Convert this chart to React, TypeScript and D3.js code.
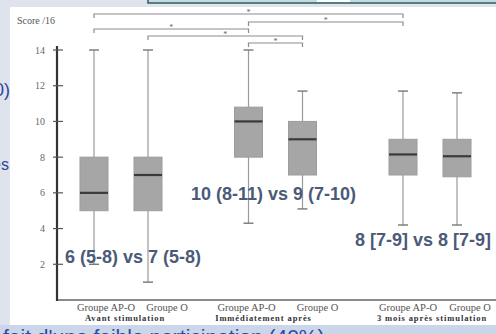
import React from "react";
import * as d3 from "d3";

// periods and groups on the x axis
const periods = ["Avant stimulation", "Immédiatement après", "3 mois après stimulation"];
const groups = ["Groupe AP-O", "Groupe O"];

// box stats, in order: period 1 AP-O, period 1 O, period 2 AP-O, ...
const whiskerLow = [2, 1, 4.3, 5.1, 4.2, 4.2];
const q1 = [5, 5, 8, 7, 7, 6.9];
const medians = [6, 7, 10, 9, 8.15, 8.05];
const q3 = [8, 8, 10.8, 10, 9, 9];
const whiskerHigh = [14, 14, 14, 11.7, 11.7, 11.6];

const yTicks = [2, 4, 6, 8, 10, 12, 14];

// significance brackets: [from box, to box]
const brackets = [
  [0, 4],
  [2, 4],
  [0, 2],
  [1, 3],
  [2, 3],
];

const summaryTexts = ["6 (5-8) vs 7 (5-8)", "10 (8-11) vs 9 (7-10)", "8 [7-9] vs 8 [7-9]"];
const summaryValues = [2.1, 5.6, 3.0];

const W = 496;
const H = 334;

export default function App() {
  const y = d3.scaleLinear().domain([0, 14]).range([300, 50]);
  const xPeriod = d3.scalePoint().domain(periods).range([121, 430]);
  const xGroup = d3.scalePoint().domain(groups).range([-27, 27]);

  const boxes = periods.flatMap((p, pi) =>
    groups.map((g, gi) => {
      const i = pi * 2 + gi;
      return {
        period: p,
        group: g,
        cx: (xPeriod(p) as number) + (xGroup(g) as number),
        lo: whiskerLow[i],
        q1: q1[i],
        med: medians[i],
        q3: q3[i],
        hi: whiskerHigh[i],
      };
    })
  );

  const boxW = 28;
  const capW = 10;
  const bracketY = [14, 22, 29, 36, 43];
  // small layout nudges so the labels sit where the original figure put them
  const groupLabelDx = [12, 19, -2, 15, 5, 13];
  const periodLabelDx = [4, -12, 2];
  const summaryDx = [12, -2, -7];
  const textColor = "#4b5a78";
  const serif = "Liberation Serif, 'DejaVu Serif', serif";
  const sans = "Liberation Sans, Arial, sans-serif";

  return (
    <svg width={W} height={H} style={{ position: "absolute", left: 0, top: 0 }}>
      {/* slide background */}
      <rect x={0} y={0} width={W} height={H} fill="#dfe3eb" />
      <rect x={10} y={7} width={W - 10} height={318} fill="#ffffff" />
      <rect x={148} y={-4} width={360} height={7} fill="#c6dadd" stroke="#2e5b66" strokeWidth={1.5} />
      <rect x={317} y={0} width={33} height={2} fill="#ffffff" />
      <rect x={0} y={325} width={W} height={9} fill="#ccd6ea" />
      <text x={3} y={344} fontFamily={sans} fontSize={21} fill="#2b49a6">
        fait d'une faible participation (40%)
      </text>
      <text x={10} y={96} textAnchor="end" fontFamily={sans} fontSize={18} fill="#2d44a0">
        0)
      </text>
      <text x={9} y={170} textAnchor="end" fontFamily={sans} fontSize={16} fill="#2d44a0">
        es
      </text>

      {/* axes */}
      <line x1={57} x2={W} y1={y(0)} y2={y(0)} stroke="#8a8a8a" strokeWidth={2} />
      <line x1={57} x2={57} y1={46} y2={y(0) + 1} stroke="#333" strokeWidth={2.2} />
      {yTicks.map((t) => (
        <g key={t}>
          <line x1={53} x2={63} y1={y(t)} y2={y(t)} stroke="#555" strokeWidth={1.2} />
          <text x={45} y={y(t) + 3.5} textAnchor="end" fontFamily={serif} fontSize={10} fill="#666">
            {t}
          </text>
        </g>
      ))}
      <text x={17} y={24} fontFamily={serif} fontSize={10} fill="#555">
        Score /16
      </text>

      {/* boxes */}
      {boxes.map((b, i) => (
        <g key={i}>
          <line x1={b.cx} x2={b.cx} y1={y(b.hi)} y2={y(b.q3)} stroke="#9a9a9a" strokeWidth={1.2} />
          <line x1={b.cx} x2={b.cx} y1={y(b.q1)} y2={y(b.lo)} stroke="#9a9a9a" strokeWidth={1.2} />
          <line x1={b.cx - capW / 2} x2={b.cx + capW / 2} y1={y(b.hi)} y2={y(b.hi)} stroke="#777" strokeWidth={1.4} />
          <line x1={b.cx - capW / 2} x2={b.cx + capW / 2} y1={y(b.lo)} y2={y(b.lo)} stroke="#777" strokeWidth={1.4} />
          <rect
            x={b.cx - boxW / 2}
            y={y(b.q3)}
            width={boxW}
            height={y(b.q1) - y(b.q3)}
            fill="#a6a6a6"
            stroke="#9c9c9c"
          />
          <line
            x1={b.cx - boxW / 2}
            x2={b.cx + boxW / 2}
            y1={y(b.med)}
            y2={y(b.med)}
            stroke="#3a3a3a"
            strokeWidth={2.2}
          />
          <text
            x={b.cx + groupLabelDx[i]}
            y={311}
            textAnchor="middle"
            fontFamily={serif}
            fontSize={10.5}
            fill="#555"
          >
            {b.group}
          </text>
        </g>
      ))}
      {periods.map((p, i) => (
        <text
          key={p}
          x={(xPeriod(p) as number) + periodLabelDx[i]}
          y={321}
          textAnchor="middle"
          fontFamily={serif}
          fontSize={8.5}
          fontWeight="bold"
          letterSpacing={0.9}
          fill="#333"
        >
          {p}
        </text>
      ))}

      {/* brackets */}
      {brackets.map(([a, b], i) => {
        const x1 = boxes[a].cx;
        const x2 = boxes[b].cx;
        const by = bracketY[i];
        return (
          <g key={i}>
            <path
              d={`M${x1},${by + 4}V${by}H${x2}V${by + 4}`}
              fill="none"
              stroke="#8c8c8c"
              strokeWidth={1.2}
            />
            <text x={(x1 + x2) / 2} y={by + 1} textAnchor="middle" fontFamily={serif} fontSize={8} fill="#666">
              *
            </text>
          </g>
        );
      })}

      {/* summary annotations */}
      {summaryTexts.map((s, i) => (
        <text
          key={s}
          x={(xPeriod(periods[i]) as number) + summaryDx[i]}
          y={y(summaryValues[i])}
          textAnchor="middle"
          fontFamily={sans}
          fontSize={18}
          fontWeight="bold"
          fill={textColor}
        >
          {s}
        </text>
      ))}
    </svg>
  );
}
